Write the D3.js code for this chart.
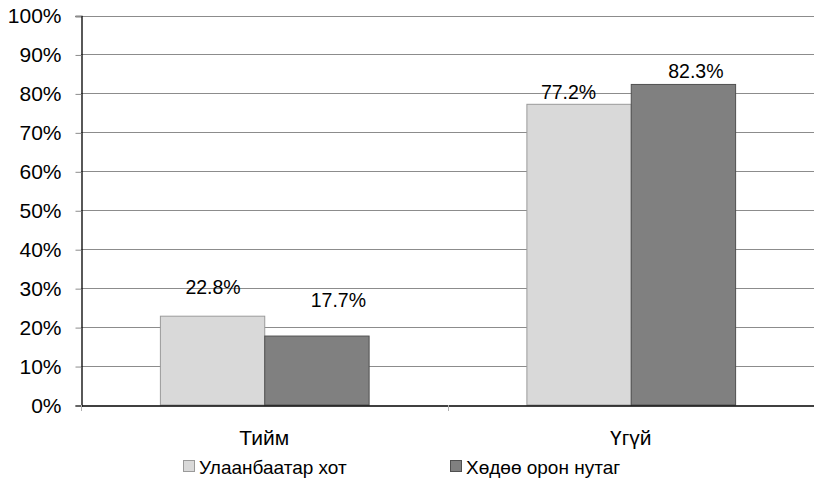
<!DOCTYPE html>
<html>
<head>
<meta charset="utf-8">
<script src="https://cdn.jsdelivr.net/npm/d3@7"></script>
<style>
  body { margin: 0; background: #fff; }
  svg text { font-family: "Liberation Sans", Arial, sans-serif; fill: #000; }
</style>
</head>
<body>
<div id="chart"></div>
<script>
// Data
var categories = ["Тийм", "Үгүй"];
var seriesNames = ["Улаанбаатар хот", "Хөдөө орон нутаг"];
var ubValues = [22.8, 77.2];
var ruralValues = [17.7, 82.3];
var yTicks = [0, 10, 20, 30, 40, 50, 60, 70, 80, 90, 100];

var colors = ["#d9d9d9", "#808080"];
var strokes = ["#9a9a9a", "#505050"];

var width = 814, height = 492;
var margin = {top: 15.5, right: 0, bottom: 87, left: 81};

var svg = d3.select("#chart").append("svg")
    .attr("width", width)
    .attr("height", height);

var x0 = d3.scaleBand()
    .domain(categories)
    .range([margin.left, width - margin.right])
    .paddingInner(0)
    .paddingOuter(0);

var x1 = d3.scaleBand()
    .domain([0, 1])
    .range([0, x0.bandwidth()])
    .paddingInner(0)
    .paddingOuter(0.756);

var y = d3.scaleLinear()
    .domain([0, 100])
    .range([height - margin.bottom, margin.top]);

// gridlines
svg.append("g")
    .selectAll("line")
    .data(yTicks.slice(1))
    .enter()
    .append("line")
    .attr("x1", margin.left)
    .attr("x2", width)
    .attr("y1", function(d) { return Math.round(y(d)) + 0.5; })
    .attr("y2", function(d) { return Math.round(y(d)) + 0.5; })
    .attr("stroke", "#8c8c8c")
    .attr("stroke-width", 1);

// y axis
var yAxis = d3.axisLeft(y)
    .tickValues(yTicks)
    .tickSize(6)
    .tickPadding(14)
    .tickFormat(function(d) { return d + "%"; });

var gy = svg.append("g")
    .attr("transform", "translate(" + (margin.left + 0.5) + ",0.5)")
    .call(yAxis);
gy.select(".domain").attr("stroke", "#000").attr("stroke-width", 1.3);
gy.selectAll(".tick line").attr("stroke", "#8c8c8c");
gy.selectAll(".tick text")
    .style("font-size", "21px");

// bars
var rows = categories.map(function(c, i) {
    return {cat: c, vals: [ubValues[i], ruralValues[i]]};
});

var groups = svg.append("g")
    .selectAll("g")
    .data(rows)
    .enter()
    .append("g")
    .attr("transform", function(d) { return "translate(" + x0(d.cat) + ",0)"; });

groups.selectAll("rect")
    .data(function(d) { return d.vals.map(function(v, j) { return {v: v, s: j}; }); })
    .enter()
    .append("rect")
    .attr("x", function(d) { return x1(d.s) + 0.5; })
    .attr("width", x1.bandwidth())
    .attr("y", function(d) { return y(d.v); })
    .attr("height", function(d) { return y(0) - y(d.v); })
    .attr("fill", function(d) { return colors[d.s]; })
    .attr("stroke", function(d) { return strokes[d.s]; })
    .attr("stroke-width", 1);

// value labels (label placement nudges in px, as in the original layout)
var labelDx = [[1, 22], [-10, 13]];
var labelDy = [[-22, -29], [-5, -6]];

groups.each(function(d, i) {
    d3.select(this).selectAll("text.val")
        .data(d.vals)
        .enter()
        .append("text")
        .attr("class", "val")
        .attr("x", function(v, j) { return x1(j) + x1.bandwidth() / 2 + labelDx[i][j]; })
        .attr("y", function(v, j) { return y(v) + labelDy[i][j]; })
        .attr("text-anchor", "middle")
        .style("font-size", "19.5px")
        .text(function(v) { return v.toFixed(1) + "%"; });
});

// x axis
var xAxis = d3.axisBottom(x0).tickSize(0).tickPadding(25);
var gx = svg.append("g")
    .attr("transform", "translate(0," + (y(0) + 0.5) + ")")
    .call(xAxis);
gx.select(".domain").attr("stroke", "#000").attr("stroke-width", 1.3);
gx.selectAll(".tick text").style("font-size", "21px");

// category boundary ticks
var bounds = [x0.range()[0], x0(categories[1]), x0.range()[1]];
svg.append("g")
    .selectAll("line")
    .data(bounds)
    .enter()
    .append("line")
    .attr("x1", function(d) { return Math.round(d) + 0.5; })
    .attr("x2", function(d) { return Math.round(d) + 0.5; })
    .attr("y1", y(0))
    .attr("y2", y(0) + 6)
    .attr("stroke", "#b0b0b0");

// legend
var legend = svg.append("g").attr("transform", "translate(0,466)");
var legendX = [183, 450];
var items = legend.selectAll("g")
    .data(seriesNames)
    .enter()
    .append("g")
    .attr("transform", function(d, i) { return "translate(" + legendX[i] + ",0)"; });
items.append("rect")
    .attr("x", 0.5)
    .attr("y", -5.5)
    .attr("width", 11)
    .attr("height", 11)
    .attr("fill", function(d, i) { return colors[i]; })
    .attr("stroke", function(d, i) { return strokes[i]; });
items.append("text")
    .attr("x", 16)
    .attr("y", 7.5)
    .style("font-size", "19px")
    .text(function(d) { return d; });
</script>
</body>
</html>
